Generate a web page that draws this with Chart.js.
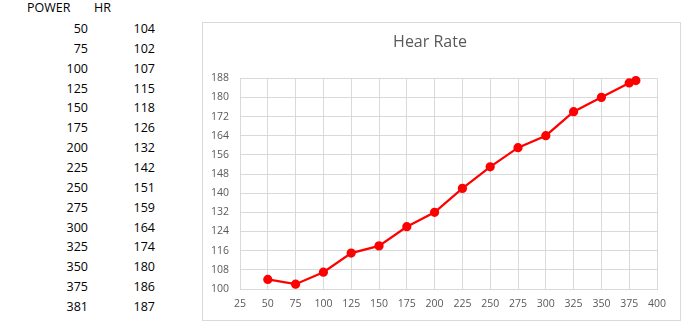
<!DOCTYPE html>
<html>
<head>
<meta charset="utf-8">
<script src="https://cdn.jsdelivr.net/npm/chart.js@4"></script>
<style>
  body { margin: 0; background: #fff; font-family: "Open Sans", sans-serif; }
  .sheet { position: absolute; left: 0; top: 0; width: 200px; height: 329px; font-size: 12.5px; color: #000; }
  .cell { position: absolute; line-height: 16px; height: 16px; white-space: nowrap; }
  .num { text-align: right; width: 40px; }
  .chart-box { position: absolute; left: 202px; top: 22px; width: 477px; height: 297px; border: 1px solid #d9d9d9; }
</style>
</head>
<body>
<div class="sheet" id="sheet"></div>
<div class="chart-box"><canvas id="hrChart" width="477" height="297"></canvas></div>
<script>
const power = [50, 75, 100, 125, 150, 175, 200, 225, 250, 275, 300, 325, 350, 375, 381];
const heartRate = [104, 102, 107, 115, 118, 126, 132, 142, 151, 159, 164, 174, 180, 186, 187];
const headers = ['POWER', 'HR'];

// spreadsheet columns on the left
const sheet = document.getElementById('sheet');
function addCell(text, x, y, cls) {
    const el = document.createElement('div');
    el.className = 'cell ' + (cls || '');
    el.textContent = text;
    el.style.left = x + 'px';
    el.style.top = (y - 8) + 'px';
    sheet.appendChild(el);
}
addCell(headers[0], 27, 8);
addCell(headers[1], 94, 8);
power.forEach((p, i) => {
    const y = 29 + i * 19.86;
    addCell(String(p), 48, y, 'num');
    addCell(String(heartRate[i]), 115, y, 'num');
});

const ctx = document.getElementById('hrChart').getContext('2d');
const hrChart = new Chart(ctx, {
    type: 'scatter',
    data: {
        datasets: [{
            label: 'HR',
            data: power.map((p, i) => ({ x: p, y: heartRate[i] })),
            showLine: true,
            clip: false,
            borderColor: '#ff0000',
            backgroundColor: '#ff0000',
            borderWidth: 2.25,
            pointRadius: 3.5,
            pointHoverRadius: 3.5
        }]
    },
    options: {
        responsive: false,
        animation: false,
        layout: { padding: { left: 0, right: 23, top: 0, bottom: 0 } },
        plugins: {
            legend: { display: false },
            tooltip: { enabled: false },
            title: {
                display: true,
                text: 'Hear Rate',
                color: '#595959',
                font: { family: 'Open Sans', size: 16, weight: 'normal' },
                padding: { top: 10, bottom: 26 }
            }
        },
        scales: {
            x: {
                type: 'linear',
                min: 25,
                max: 400,
                ticks: { stepSize: 25, color: '#595959', font: { family: 'Open Sans', size: 10.5 }, padding: 9, maxRotation: 0 },
                grid: { color: '#d9d9d9', drawTicks: false },
                border: { color: '#d9d9d9' },
                afterFit: s => { s.height = 31; }
            },
            y: {
                min: 100,
                max: 188,
                ticks: { stepSize: 8, color: '#595959', font: { family: 'Open Sans', size: 10.5 }, padding: 11 },
                grid: { color: '#d9d9d9', drawTicks: false },
                border: { color: '#d9d9d9' },
                afterFit: s => { s.width = 37; }
            }
        }
    }
});
</script>
</body>
</html>
